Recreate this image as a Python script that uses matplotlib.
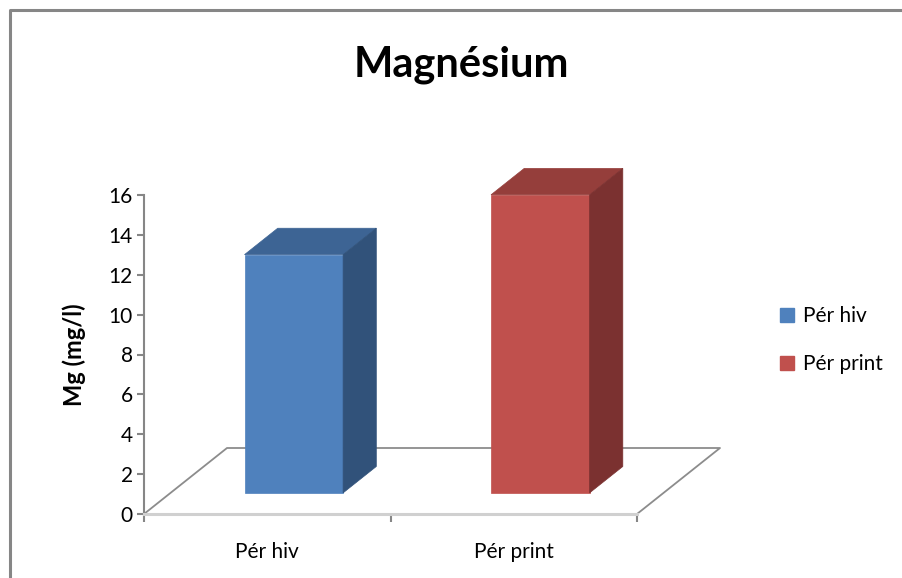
import matplotlib.pyplot as plt
from matplotlib.patches import Polygon, Patch
from matplotlib.lines import Line2D

# Magnesium content per period
categories = ['Pér hiv', 'Pér print']
magnesium = [11.95, 14.95]
front_colors = ['#4F81BD', '#C0504D']
top_colors = ['#3D6494', '#953E3B']
side_colors = ['#31527A', '#7B3130']
y_ticks = [0, 2, 4, 6, 8, 10, 12, 14, 16]

W, H = 902, 578
plt.rcParams['font.family'] = ['Lato', 'DejaVu Sans']

fig = plt.figure(figsize=(W / 100, H / 100), dpi=100)
ax = fig.add_axes([144 / W, 1 - 514 / H, (637 - 144) / W, (514 - 195) / H])
ax.set_xlim(0, 2)
ax.set_ylim(0, 16)

# oblique depth of the floor, in data units
DX = 83 * 2 / 493
DY = 66 * 16 / 319

# floor outline
floor_col = '#8C8C8C'
ax.add_patch(Polygon([(0, 0), (2, 0), (2 + DX, DY), (DX, DY)], closed=True,
                     facecolor='white', edgecolor='none', clip_on=False, zorder=1))
ax.plot([0, DX, 2 + DX, 2], [0, DY, DY, 0], color=floor_col, lw=1.3,
        clip_on=False, zorder=2)

# 3D columns
half_w = 0.2
f0, f1 = 0.32, 0.72
for i, v in enumerate(magnesium):
    x0 = i + 0.5 - half_w + f0 * DX
    x1 = i + 0.5 + half_w + f0 * DX
    yb = f0 * DY
    yt = yb + v
    ddx = (f1 - f0) * DX
    ddy = (f1 - f0) * DY
    front = [(x0, yb), (x1, yb), (x1, yt), (x0, yt)]
    top = [(x0, yt), (x1, yt), (x1 + ddx, yt + ddy), (x0 + ddx, yt + ddy)]
    side = [(x1, yb), (x1 + ddx, yb + ddy), (x1 + ddx, yt + ddy), (x1, yt)]
    for pts, c in ((front, front_colors[i]), (top, top_colors[i]), (side, side_colors[i])):
        ax.add_patch(Polygon(pts, closed=True, facecolor=c, edgecolor=c, lw=0.5,
                             clip_on=False, zorder=3))

# axes styling
for s in ['top', 'right']:
    ax.spines[s].set_visible(False)
ax.spines['left'].set_color('#868686')
ax.spines['left'].set_linewidth(1.5)
ax.spines['bottom'].set_color('#D0D0D0')
ax.spines['bottom'].set_linewidth(2.2)
ax.set_yticks(y_ticks)
ax.tick_params(axis='y', length=5, width=1.5, color='#868686', pad=3, labelsize=15)
ax.set_xticks([0.5, 1.5])
ax.set_xticklabels(categories)
ax.set_xticks([0, 1, 2], minor=True)
ax.tick_params(axis='x', which='major', length=0, pad=20, labelsize=15)
ax.tick_params(axis='x', which='minor', length=6, width=1.5, color='#868686')
ax.patch.set_visible(False)

ax.set_ylabel('Mg (mg/l)', fontsize=17, fontweight='bold', labelpad=16)

fig.text(461 / W, 1 - 77 / H, 'Magnésium', fontsize=30, fontweight='bold',
         ha='center', va='baseline')

handles = [Patch(facecolor=c, edgecolor=c) for c in front_colors]
fig.legend(handles, categories, loc='center left',
           bbox_to_anchor=(780 / W, 1 - 340 / H), frameon=False, fontsize=15,
           handlelength=0.65, handleheight=0.65, handletextpad=0.45,
           labelspacing=1.35, borderpad=0, borderaxespad=0)

# chart area border
fig.add_artist(Line2D([9.5 / W, 9.5 / W, 1.0], [0.0, 1 - 10 / H, 1 - 10 / H],
                      transform=fig.transFigure, color='#868686', lw=2.2))

fig.savefig('out.png', dpi=100)
